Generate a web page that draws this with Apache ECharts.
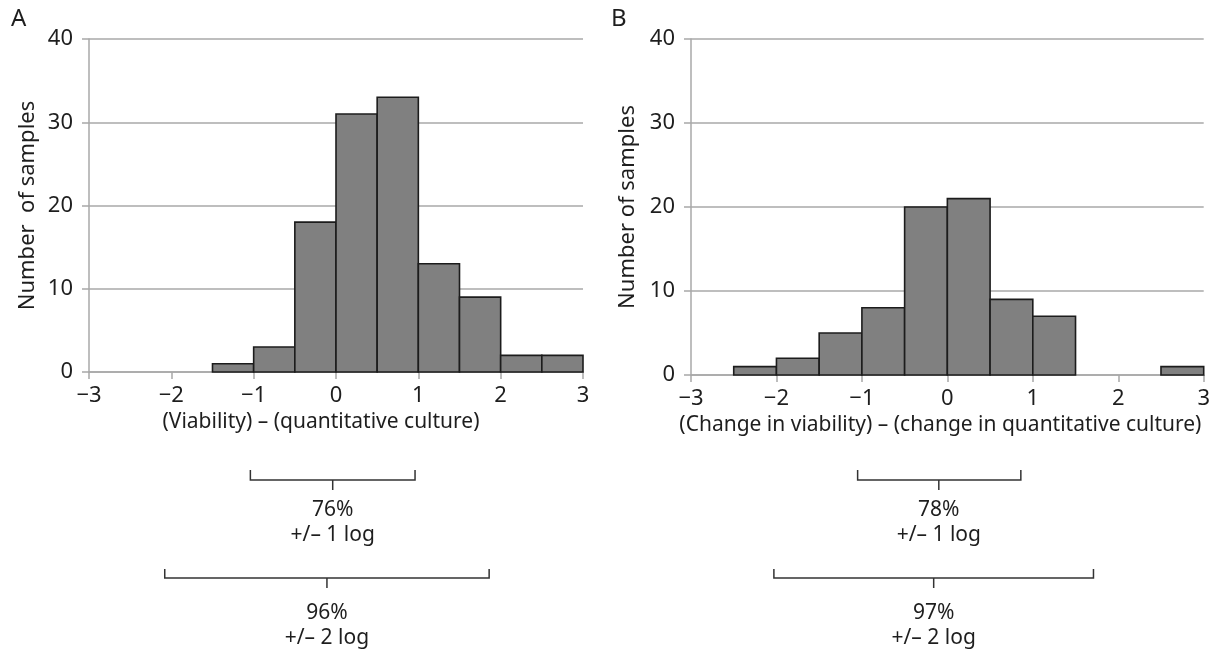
<!DOCTYPE html>
<html>
<head>
<meta charset="utf-8">
<script src="https://cdn.jsdelivr.net/npm/echarts@6/dist/echarts.min.js"></script>
<style>
html,body{margin:0;padding:0;background:#fff;}
#chart{width:1213px;height:650px;}
</style>
</head>
<body>
<div id="chart"></div>
<script>
// ---- data ----
const binStarts = [-3, -2.5, -2, -1.5, -1, -0.5, 0, 0.5, 1, 1.5, 2, 2.5];
const binWidth = 0.5;
const countsA = [0, 0, 0, 1, 3, 18, 31, 33, 13, 9, 2, 2];
const countsB = [0, 1, 2, 5, 8, 20, 21, 9, 7, 0, 0, 1];
const xTickValues = [-3, -2, -1, 0, 1, 2, 3];
const yTickValues = [0, 10, 20, 30, 40];
const titleA = '(Viability) \u2013 (quantitative culture)';
const titleB = '(Change in viability) \u2013 (change in quantitative culture)';
const yNameA = 'Number  of samples';
const yNameB = 'Number of samples';
// brackets: [start, end, centre] in x-axis units
const bracketsA = [[-1.04, 0.96, -0.04], [-2.08, 1.86, -0.11]];
const bracketsB = [[-1.05, 0.86, -0.10], [-2.03, 1.71, -0.16]];
const bracketTextA = [['76%', '+/\u2013 1 log'], ['96%', '+/\u2013 2 log']];
const bracketTextB = [['78%', '+/\u2013 1 log'], ['97%', '+/\u2013 2 log']];

// ---- layout / style ----
const FONT = '"Noto Sans", "Open Sans", sans-serif';
const TXT = '#1e1e1e';
const GRIDC = '#a8a8a8';
const bracketRows = [
  {endTop: 470, bar: 480, tick: 490, t1: 510, t2: 535},
  {endTop: 569, bar: 578, tick: 588, t1: 613, t2: 638}
];

const fmt = v => (v < 0 ? '\u2212' + Math.abs(v) : String(v));

function xAxisCfg(grid, name, gap, shiftPad) {
  return {
    type: 'value', gridIndex: grid, min: -3, max: 3, interval: 1,
    name: name, nameLocation: 'middle', nameGap: gap,
    nameTextStyle: {fontFamily: FONT, fontSize: 21, color: TXT, padding: [0, shiftPad, 0, 0]},
    axisLine: {show: true, onZero: false, lineStyle: {color: GRIDC, width: 1.5}},
    axisTick: {show: true, length: 7, lineStyle: {color: GRIDC, width: 1.5}},
    axisLabel: {formatter: fmt, fontFamily: FONT, fontSize: 22, color: TXT, margin: 13},
    splitLine: {show: false}
  };
}
function yAxisCfg(grid, name, gap) {
  return {
    type: 'value', gridIndex: grid, min: 0, max: 40, interval: 10,
    name: name, nameLocation: 'middle', nameGap: gap,
    nameTextStyle: {fontFamily: FONT, fontSize: 22, color: TXT},
    axisLine: {show: true, onZero: false, lineStyle: {color: GRIDC, width: 1.5}},
    axisTick: {show: true, length: 7, lineStyle: {color: GRIDC, width: 1.5}},
    axisLabel: {fontFamily: FONT, fontSize: 22, color: TXT, margin: 16},
    splitLine: {show: true, lineStyle: {color: GRIDC, width: 1.5}}
  };
}

function barSeries(idx, counts) {
  return {
    type: 'custom', xAxisIndex: idx, yAxisIndex: idx,
    data: binStarts.map((s, i) => [s, counts[i]]),
    renderItem: function (params, api) {
      const x0 = api.value(0), c = api.value(1);
      if (!c) return null;
      const p0 = api.coord([x0, c]);
      const p1 = api.coord([x0 + binWidth, 0]);
      return {
        type: 'rect',
        shape: {x: p0[0], y: p0[1], width: p1[0] - p0[0], height: p1[1] - p0[1]},
        style: {fill: '#808080', stroke: '#1c1c1c', lineWidth: 1.6}
      };
    }
  };
}

function bracketSeries(idx, brackets, texts) {
  return {
    type: 'custom', xAxisIndex: idx, yAxisIndex: idx, clip: false, silent: true,
    data: brackets.map((b, i) => [b[0], b[1], b[2], i]),
    renderItem: function (params, api) {
      const i = api.value(3);
      const row = bracketRows[i];
      const xs = api.coord([api.value(0), 0])[0];
      const xe = api.coord([api.value(1), 0])[0];
      const xc = api.coord([api.value(2), 0])[0];
      const ls = {stroke: '#333', lineWidth: 1.5, fill: null};
      return {
        type: 'group',
        children: [
          {type: 'polyline', shape: {points: [[xs, row.endTop], [xs, row.bar], [xe, row.bar], [xe, row.endTop]]}, style: ls},
          {type: 'line', shape: {x1: xc, y1: row.bar, x2: xc, y2: row.tick}, style: ls},
          {type: 'text', style: {text: texts[i][0], x: xc, y: row.t1, textAlign: 'center', textVerticalAlign: 'middle', font: '21px ' + FONT, fill: TXT}},
          {type: 'text', style: {text: texts[i][1], x: xc, y: row.t2, textAlign: 'center', textVerticalAlign: 'middle', font: '21px ' + FONT, fill: TXT}}
        ]
      };
    }
  };
}

const chart = echarts.init(document.getElementById('chart'));
chart.setOption({
  animation: false,
  backgroundColor: '#fff',
  graphic: [
    {type: 'text', left: 11, top: 7, style: {text: 'A', font: '24px ' + FONT, fill: TXT}},
    {type: 'text', left: 611, top: 7, style: {text: 'B', font: '24px ' + FONT, fill: TXT}}
  ],
  grid: [
    {left: 89, top: 39, width: 494, height: 333},
    {left: 691, top: 39, width: 521, height: 336}
  ],
  xAxis: [xAxisCfg(0, titleA, 36, 30), xAxisCfg(1, titleB, 34, 14)],
  yAxis: [yAxisCfg(0, yNameA, 50), yAxisCfg(1, yNameB, 52)],
  series: [
    barSeries(0, countsA),
    barSeries(1, countsB),
    bracketSeries(0, bracketsA, bracketTextA),
    bracketSeries(1, bracketsB, bracketTextB)
  ]
});
</script>
</body>
</html>
